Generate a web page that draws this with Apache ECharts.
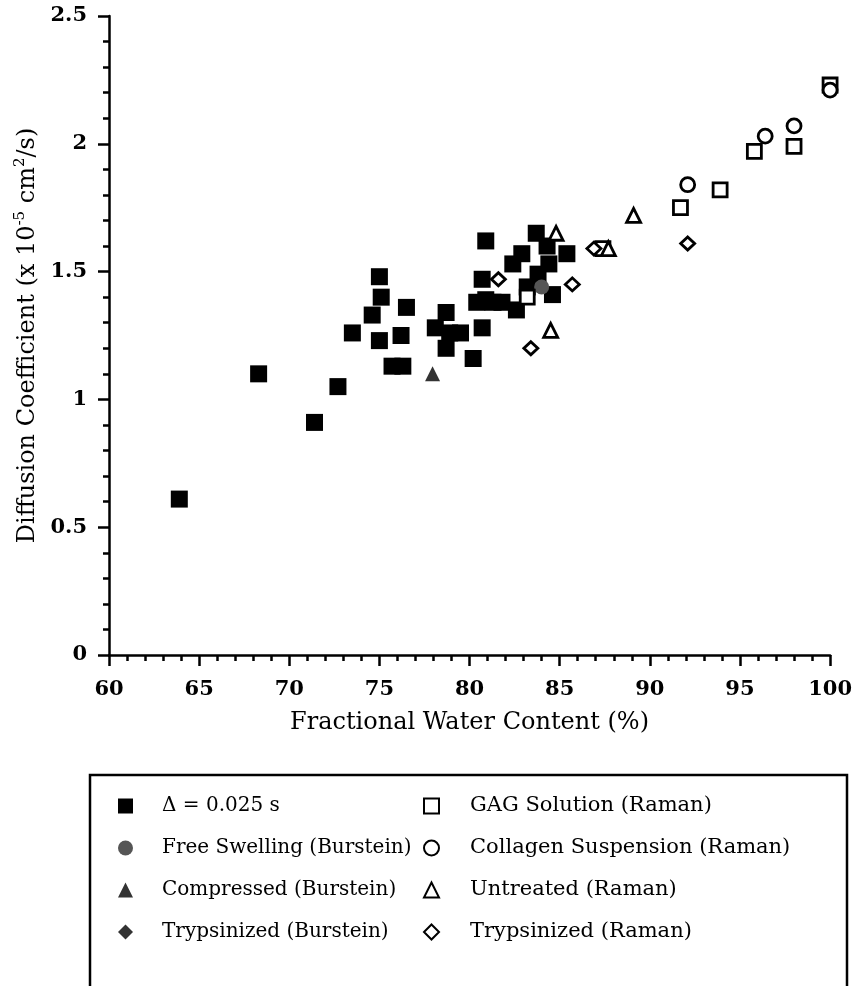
<!DOCTYPE html>
<html>
<head>
<meta charset="utf-8">
<script src="https://cdn.jsdelivr.net/npm/echarts@6/dist/echarts.min.js"></script>
<style>
  html, body { margin: 0; padding: 0; background: #fff; }
  #chart { width: 855px; height: 986px; }
</style>
</head>
<body>
<div id="chart"></div>
<script>
// Water content (%) vs. diffusion coefficient (x 10^-5 cm^2/s)

// Δ = 0.025 s (filled squares)
const delta025 = [
  [63.9, 0.61], [68.3, 1.10], [71.4, 0.91], [72.7, 1.05], [73.5, 1.26],
  [74.6, 1.33], [75.0, 1.48], [75.1, 1.40], [75.0, 1.23], [75.7, 1.13],
  [76.3, 1.13], [76.2, 1.25], [76.5, 1.36], [78.1, 1.28], [78.7, 1.34],
  [78.9, 1.26], [78.7, 1.20], [79.5, 1.26], [80.2, 1.16], [80.7, 1.28],
  [80.9, 1.62], [80.7, 1.47], [80.4, 1.38], [81.3, 1.38], [81.8, 1.38],
  [82.4, 1.53], [82.9, 1.57], [82.6, 1.35], [83.2, 1.44], [83.7, 1.65],
  [84.3, 1.60], [84.4, 1.53], [84.6, 1.41], [85.4, 1.57], [80.9, 1.39],
  [83.8, 1.49]
];
// Burstein reference data
const freeSwellingBurstein = [[84.0, 1.44]];
const compressedBurstein = [[77.95, 1.10]];
const trypsinizedBurstein = [];
// Raman reference data
const gagSolutionRaman = [
  [83.2, 1.40], [87.4, 1.59], [91.7, 1.75], [93.9, 1.82],
  [95.8, 1.97], [98.0, 1.99], [100.0, 2.23]
];
const collagenSuspensionRaman = [
  [92.1, 1.84], [96.4, 2.03], [98.0, 2.07], [100.0, 2.21]
];
const untreatedRaman = [
  [84.8, 1.65], [87.7, 1.59], [84.5, 1.27], [89.1, 1.72]
];
const trypsinizedRaman = [
  [81.6, 1.47], [85.7, 1.45], [83.4, 1.20], [86.9, 1.59], [92.1, 1.61]
];

const seriesNames = [
  'Δ = 0.025 s',
  'Free Swelling (Burstein)',
  'Compressed (Burstein)',
  'Trypsinized (Burstein)',
  'GAG Solution (Raman)',
  'Collagen Suspension (Raman)',
  'Untreated (Raman)',
  'Trypsinized (Raman)'
];

const FONT = 'DejaVu Serif';

function filled(name, data, symbol, size, color, z) {
  return {
    name, type: 'scatter', data, symbol, symbolSize: size, z,
    itemStyle: { color: color, opacity: 1 },
    emphasis: { disabled: true }
  };
}
function hollow(name, data, symbol, size, z) {
  return {
    name, type: 'scatter', data, symbol, symbolSize: size, z,
    itemStyle: { color: '#fff', borderColor: '#000', borderWidth: 2.8, opacity: 1 },
    emphasis: { disabled: true }
  };
}

const chart = echarts.init(document.getElementById('chart'), null, { renderer: 'canvas' });

chart.setOption({
  animation: false,
  backgroundColor: '#fff',
  grid: { left: 109, right: 24, top: 16, bottom: 331, containLabel: false },
  xAxis: {
    type: 'value', min: 60, max: 100, interval: 5,
    name: 'Fractional Water Content (%)',
    nameLocation: 'middle', nameGap: 56,
    nameTextStyle: { fontFamily: FONT, fontSize: 24, color: '#000' },
    axisLine: { show: true, onZero: false, lineStyle: { color: '#000', width: 2.5 } },
    axisTick: { show: true, inside: false, length: 11, lineStyle: { color: '#000', width: 2.5 } },
    minorTick: { show: true, splitNumber: 5, length: 6, lineStyle: { color: '#000', width: 2.5 } },
    axisLabel: { fontFamily: FONT, fontSize: 21, fontWeight: 'bold', color: '#000', margin: 24 },
    splitLine: { show: false }
  },
  yAxis: {
    type: 'value', min: 0, max: 2.5, interval: 0.5,
    name: '{a|Diffusion Coefficient (x 10}{s|-5}{a| cm}{s|2}{a|/s)}',
    nameLocation: 'middle', nameGap: 64, nameRotate: 90,
    nameTextStyle: {
      fontFamily: FONT, fontSize: 24, color: '#000',
      rich: {
        a: { fontFamily: FONT, fontSize: 24, color: '#000', lineHeight: 30 },
        s: { fontFamily: FONT, fontSize: 15, color: '#000', lineHeight: 15, verticalAlign: 'top' }
      }
    },
    axisLine: { show: true, onZero: false, lineStyle: { color: '#000', width: 2.5 } },
    axisTick: { show: true, inside: false, length: 11, lineStyle: { color: '#000', width: 2.5 } },
    minorTick: { show: true, splitNumber: 5, length: 6, lineStyle: { color: '#000', width: 2.5 } },
    axisLabel: { fontFamily: FONT, fontSize: 21, fontWeight: 'bold', color: '#000', margin: 22 },
    splitLine: { show: false }
  },
  legend: [
    {
      data: seriesNames.slice(0, 4),
      orient: 'vertical', left: 113, top: 790,
      itemWidth: 15, itemHeight: 15, itemGap: 20,
      selectedMode: false,
      textStyle: { fontFamily: FONT, fontSize: 20, color: '#000', lineHeight: 22, padding: [0, 0, 0, 24] }
    },
    {
      data: seriesNames.slice(4),
      orient: 'vertical', left: 418, top: 790,
      itemWidth: 15, itemHeight: 15, itemGap: 20,
      selectedMode: false,
      textStyle: { fontFamily: FONT, fontSize: 21, color: '#000', lineHeight: 22, padding: [0, 0, 0, 26] }
    }
  ],
  graphic: [
    {
      type: 'rect', silent: true, z: 0,
      shape: { x: 90, y: 775, width: 757, height: 300 },
      style: { fill: 'none', stroke: '#000', lineWidth: 2.5 }
    }
  ],
  series: [
    filled(seriesNames[0], delta025, 'rect', 17, '#000', 2),
    filled(seriesNames[1], freeSwellingBurstein, 'circle', 15, '#555', 3),
    filled(seriesNames[2], compressedBurstein, 'triangle', 15, '#333', 3),
    filled(seriesNames[3], trypsinizedBurstein, 'diamond', 14, '#333', 3),
    hollow(seriesNames[4], gagSolutionRaman, 'rect', 14, 4),
    hollow(seriesNames[5], collagenSuspensionRaman, 'circle', 14, 4),
    hollow(seriesNames[6], untreatedRaman, 'triangle', 14, 4),
    hollow(seriesNames[7], trypsinizedRaman, 'diamond', [14, 13], 4)
  ]
});
</script>
</body>
</html>
